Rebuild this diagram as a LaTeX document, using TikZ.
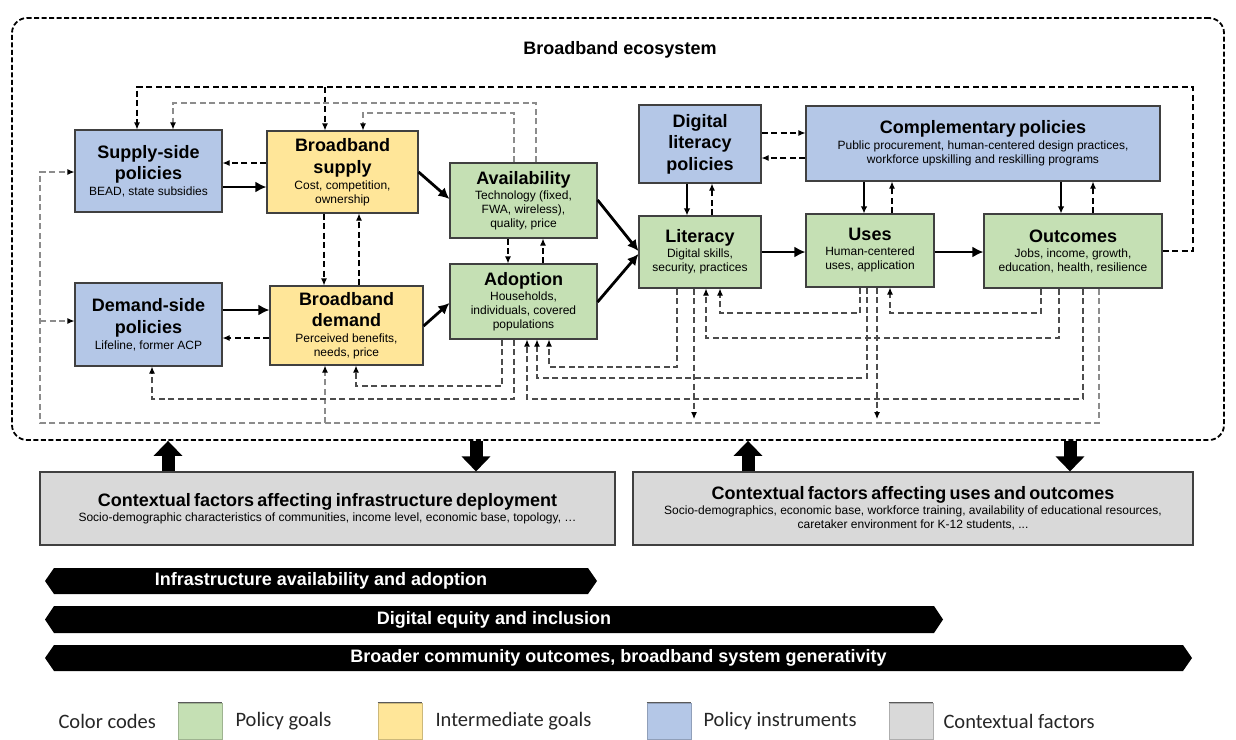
\documentclass[tikz,border=0pt]{standalone}
\usepackage{fontspec}
\setmainfont{Liberation Sans}
\newfontfamily\legendfont{Carlito}
\usetikzlibrary{arrows.meta}
\definecolor{cblue}{HTML}{B4C7E7}
\definecolor{cyellow}{HTML}{FFE699}
\definecolor{cgreen}{HTML}{C5E0B4}
\definecolor{cgray}{HTML}{D9D9D9}
\newcommand\Ttl{\fontsize{18}{21.5}\selectfont\bfseries}
\newcommand\Sub{\fontsize{12}{14}\selectfont\mdseries}
\begin{document}
\begin{tikzpicture}[x=1pt,y=-1pt,
 bx/.style={draw=black!75,line width=1.1pt,inner sep=0pt,align=center},
 dk/.style={draw=black,line width=1.1pt,dash pattern=on 6pt off 3.5pt,-{Latex[length=7pt,width=6pt,color=black]}},
 dm/.style={dk,draw=black!70},
 dg/.style={dk,draw=black!45},
 thk/.style={draw=black,line width=2.8pt,-{Latex[length=11pt,width=11pt]}},
 thn/.style={draw=black,line width=1.4pt,-{Latex[length=7pt,width=6.5pt]}},
 blk/.style={draw=black,line width=13pt,-{Triangle[length=15pt,width=28pt]}},
 bt/.style={text=white,font=\fontsize{18}{20}\selectfont\bfseries},
 lgt/.style={anchor=west,font=\legendfont\fontsize{20.5}{24}\selectfont,text=black!85},
 sw/.style={fill=#1,draw=#1!80!black,line width=0.6pt,minimum width=44pt,minimum height=36pt,inner sep=0pt}
]
\useasboundingbox (0,0) rectangle (1236,739);

% ecosystem frame
\node[draw=black,line width=1.8pt,dash pattern=on 5pt off 2.5pt,rounded corners=15pt,
      minimum width=1212pt,minimum height=422pt,inner sep=0pt] (eco) at (618,229) {};
\node[font=\Ttl] (ttl) at (620,50) {Broadband ecosystem};

% boxes
\node[bx,fill=cblue,minimum width=147pt,minimum height=82pt,text width=143pt] (ssp) at (148.5,171)
 {\Ttl Supply-side\\policies\par\vspace{2pt}\Sub BEAD, state subsidies\par};
\node[bx,fill=cyellow,minimum width=151pt,minimum height=82pt,text width=147pt] (bbs) at (342.5,172)
 {\Ttl Broadband\\supply\par\vspace{2pt}\Sub Cost, competition,\\ownership\par};
\node[bx,fill=cblue,minimum width=147pt,minimum height=83pt,text width=143pt] (dsp) at (148.5,324.5)
 {\Ttl Demand-side\\policies\par\vspace{2pt}\Sub Lifeline, former ACP\par};
\node[bx,fill=cyellow,minimum width=153pt,minimum height=79pt,text width=149pt] (bbd) at (346.5,325.5)
 {\Ttl Broadband\\demand\par\vspace{2pt}\Sub Perceived benefits,\\needs, price\par};
\node[bx,fill=cgreen,minimum width=147pt,minimum height=75pt,text width=143pt] (avl) at (523.5,200.5)
 {\Ttl Availability\par\vspace{1pt}\Sub Technology (fixed,\\FWA, wireless),\\quality, price\par};
\node[bx,fill=cgreen,minimum width=147pt,minimum height=75pt,text width=143pt] (adp) at (523.5,301.5)
 {\Ttl Adoption\par\vspace{1pt}\Sub Households,\\individuals, covered\\populations\par};
\node[bx,fill=cblue,minimum width=122pt,minimum height=78pt,text width=118pt] (dlp) at (700,144)
 {\Ttl Digital\\literacy\\policies\par};
\node[bx,fill=cgreen,minimum width=122pt,minimum height=72pt,text width=118pt] (lit) at (700,252)
 {\Ttl Literacy\par\vspace{1pt}\Sub Digital skills,\\security, practices\par};
\node[bx,fill=cblue,minimum width=354pt,minimum height=75pt,text width=350pt] (cmp) at (983,143.5)
 {\Ttl Complementary policies\par\vspace{2pt}\Sub Public procurement, human-centered design practices,\\workforce upskilling and reskilling programs\par};
\node[bx,fill=cgreen,minimum width=128pt,minimum height=73pt,text width=124pt] (use) at (870,250.5)
 {\Ttl Uses\par\vspace{1pt}\Sub Human-centered\\uses, application\par};
\node[bx,fill=cgreen,minimum width=178pt,minimum height=74pt,text width=176pt] (out) at (1073,251)
 {\Ttl Outcomes\par\vspace{1pt}\Sub Jobs, income, growth,\\education, health, resilience\par};
\node[bx,fill=cgray,minimum width=575pt,minimum height=73pt,text width=570pt] (cin) at (327.5,508.5)
 {\Ttl Contextual factors affecting infrastructure deployment\par\vspace{1pt}\Sub Socio-demographic characteristics of communities, income level, economic base, topology, …\par};
\node[bx,fill=cgray,minimum width=560pt,minimum height=73pt,text width=556pt] (cuo) at (913,508.5)
 {\Ttl Contextual factors affecting uses and outcomes\par\vspace{1pt}\Sub Socio-demographics, economic base, workforce training, availability of educational resources,\\caretaker environment for K-12 students, ...\par};

% top feedback loops
\draw[dk] (out.east) -- (out.east -| 1193,0) -- (1193,87) -- (137,87) -- (ssp.north -| 137,0);
\coordinate (j1) at (325,87);
\draw[dk] (j1) -- (bbs.north -| j1);
\draw[dg] (avl.north -| 536,0) -- (536,103) -- (173,103) -- (ssp.north -| 173,0);
\draw[dg] (avl.north -| 514,0) -- (514,113) -- (363,113) -- (bbs.north -| 363,0);

% main flow
\draw[thk] (ssp.east |- 0,187) -- (bbs.west |- 0,187);
\draw[dk] (bbs.west |- 0,163) -- (ssp.east |- 0,163);
\draw[thk] (dsp.east |- 0,310) -- (bbd.west |- 0,310);
\draw[dk] (bbd.west |- 0,338) -- (dsp.east |- 0,338);
\draw[dk] (bbs.south -| 324,0) -- (bbd.north -| 324,0);
\draw[dk] (bbd.north -| 359,0) -- (bbs.south -| 359,0);
\draw[thk] (bbs.east |- 0,172) -- (avl.west |- 0,199);
\draw[thk] (bbd.east |- 0,326) -- (adp.west |- 0,303);
\draw[dk] (avl.south -| 508,0) -- (adp.north -| 508,0);
\draw[dk] (adp.north -| 543,0) -- (avl.south -| 543,0);
\draw[thk] (avl.east |- 0,200) -- (lit.west |- 0,251);
\draw[thk] (adp.east |- 0,302) -- (lit.west |- 0,254);
\draw[thk] (lit.east |- 0,252) -- (use.west |- 0,252);
\draw[thk] (use.east |- 0,252) -- (out.west |- 0,252);
\draw[thn] (dlp.south -| 687,0) -- (lit.north -| 687,0);
\draw[dk] (lit.north -| 712,0) -- (dlp.south -| 712,0);
\draw[dk] (dlp.east |- 0,133) -- (cmp.west |- 0,133);
\draw[dk] (cmp.west |- 0,158) -- (dlp.east |- 0,158);
\draw[thn] (cmp.south -| 864,0) -- (use.north -| 864,0);
\draw[dk] (use.north -| 892,0) -- (cmp.south -| 892,0);
\draw[thn] (cmp.south -| 1061,0) -- (out.north -| 1061,0);
\draw[dk] (out.north -| 1093,0) -- (cmp.south -| 1093,0);

% bottom feedback loops
\draw[dg] (out.south -| 1099,0) -- (1099,423) -- (40,423) -- (40,172) -- (ssp.west |- 0,172);
\coordinate (j2) at (40,321);
\draw[dg] (j2) -- (dsp.west |- j2);
\coordinate (j3) at (325,423);
\draw[dg] (j3) -- (bbd.south -| j3);
\coordinate (j4) at (694,419);
\draw[dm] (lit.south -| j4) -- (j4);
\coordinate (j5) at (877,419);
\draw[dm] (use.south -| j5) -- (j5);
\draw[dm] (adp.south -| 502,0) -- (502,386) -- (356,386) -- (bbd.south -| 356,0);
\draw[dm] (adp.south -| 514,0) -- (514,399) -- (152,399) -- (dsp.south -| 152,0);
\draw[dm] (lit.south -| 677,0) -- (677,367) -- (549,367) -- (adp.south -| 549,0);
\draw[dm] (use.south -| 867,0) -- (867,378) -- (537,378) -- (adp.south -| 537,0);
\draw[dm] (out.south -| 1083,0) -- (1083,399) -- (527,399) -- (adp.south -| 527,0);
\draw[dm] (use.south -| 860,0) -- (860,313) -- (720,313) -- (lit.south -| 720,0);
\draw[dm] (out.south -| 1059,0) -- (1059,338) -- (706,338) -- (lit.south -| 706,0);
\draw[dm] (out.south -| 1041,0) -- (1041,313) -- (890,313) -- (use.south -| 890,0);

% block arrows between context and ecosystem
\draw[blk] (cin.north -| 168,0) -- (eco.south -| 168,0);
\draw[blk] (eco.south -| 476,0) -- (cin.north -| 476,0);
\draw[blk] (cuo.north -| 748,0) -- (eco.south -| 748,0);
\draw[blk] (eco.south -| 1070,0) -- (cuo.north -| 1070,0);

% bands
\fill (45,581) -- (54,568) -- (588,568) -- (597,581) -- (588,594) -- (54,594) -- cycle;
\node[bt] (b1) at (321,581) {Infrastructure availability and adoption};
\fill (45,619.5) -- (54,606) -- (934,606) -- (943,619.5) -- (934,633) -- (54,633) -- cycle;
\node[bt] (b2) at (494,619.5) {Digital equity and inclusion};
\fill (45,658) -- (54,645) -- (1183,645) -- (1192,658) -- (1183,671) -- (54,671) -- cycle;
\node[bt] (b3) at (618.5,658) {Broader community outcomes, broadband system generativity};

% legend
\node[lgt] (lg0) at (55,721) {Color codes};
\node[sw=cgreen] (s1) at (200,721) {};
\node[lgt] (lg1) at (232,721) {Policy goals};
\node[sw=cyellow] (s2) at (400,721) {};
\node[lgt] (lg2) at (432,721) {Intermediate goals};
\node[sw=cblue] (s3) at (669,721) {};
\node[lgt] (lg3) at (700,721) {Policy instruments};
\node[sw=cgray] (s4) at (911,721) {};
\node[lgt] (lg4) at (940,721) {Contextual factors};
\foreach \s in {s1,s2,s3,s4} \draw[black!65,line width=1pt] (\s.north west) -- (\s.north east);
\end{tikzpicture}
\end{document}
